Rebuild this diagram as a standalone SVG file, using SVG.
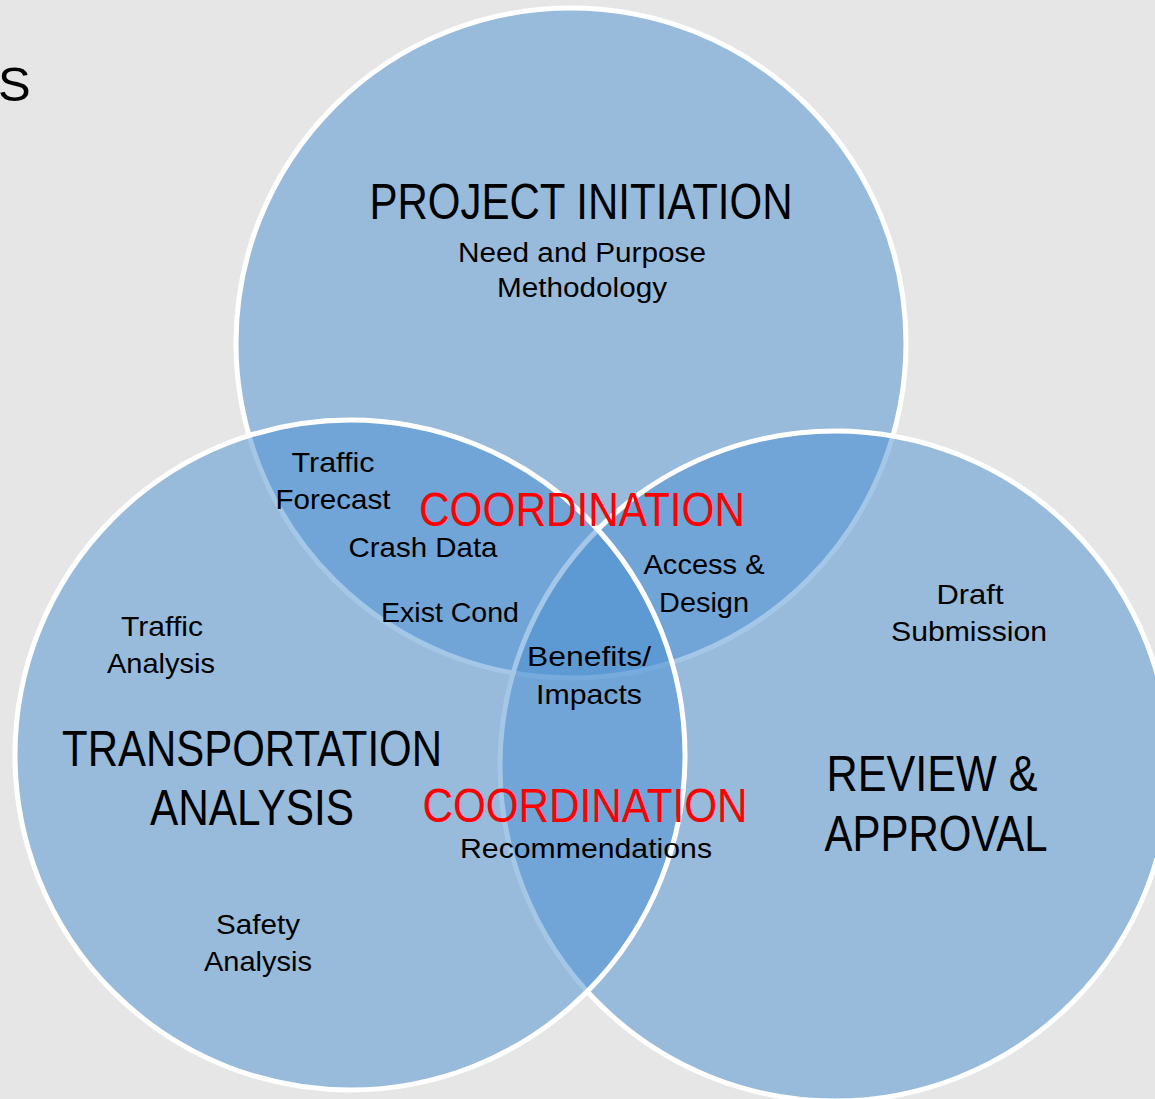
<svg xmlns="http://www.w3.org/2000/svg" width="1155" height="1099" viewBox="0 0 1155 1099">
  <style>
    .circle { fill: #4a8fd2; fill-opacity: 0.5; stroke: #ffffff; stroke-width: 5; }
    .t { font-family: "Liberation Sans", Arial, sans-serif; fill: #000000; text-anchor: middle; }
    .small { font-size: 28px; }
    .title { font-size: 50px; }
    .coord { font-family: "Liberation Sans", Arial, sans-serif; font-size: 49px; fill: #ff0000; text-anchor: middle; }
  </style>
  <rect x="0" y="0" width="1155" height="1099" fill="#e6e6e6"/>
  <text x="-2" y="101" font-family="Liberation Sans, Arial, sans-serif" font-size="49" fill="#000000">S</text>

  <g id="project-initiation">
    <circle class="circle" cx="571" cy="343" r="335"/>
  </g>
  <g id="review-approval">
    <circle class="circle" cx="835" cy="766" r="335"/>
  </g>
  <g id="transportation-analysis">
    <circle class="circle" cx="350" cy="755" r="335"/>
  </g>

  <g id="project-initiation-labels">
    <text class="t title" x="581" y="219" textLength="423" lengthAdjust="spacingAndGlyphs">PROJECT INITIATION</text>
    <text class="t" font-size="27" x="582" y="262" textLength="248" lengthAdjust="spacingAndGlyphs">Need and Purpose</text>
    <text class="t" font-size="27" x="582" y="297" textLength="170" lengthAdjust="spacingAndGlyphs">Methodology</text>
  </g>

  <g id="transportation-analysis-labels">
    <text class="t title" x="252" y="766" textLength="380" lengthAdjust="spacingAndGlyphs">TRANSPORTATION</text>
    <text class="t title" x="252" y="825" textLength="204" lengthAdjust="spacingAndGlyphs">ANALYSIS</text>
    <text class="t small" x="162" y="636" textLength="82" lengthAdjust="spacingAndGlyphs">Traffic</text>
    <text class="t small" x="161" y="673" textLength="108" lengthAdjust="spacingAndGlyphs">Analysis</text>
    <text class="t small" x="258" y="934" textLength="84" lengthAdjust="spacingAndGlyphs">Safety</text>
    <text class="t small" x="258" y="971" textLength="108" lengthAdjust="spacingAndGlyphs">Analysis</text>
  </g>

  <g id="review-approval-labels">
    <text class="t title" x="932" y="791" textLength="211" lengthAdjust="spacingAndGlyphs">REVIEW &amp;</text>
    <text class="t title" x="936" y="851" textLength="223" lengthAdjust="spacingAndGlyphs">APPROVAL</text>
    <text class="t small" x="970" y="604" textLength="67" lengthAdjust="spacingAndGlyphs">Draft</text>
    <text class="t small" x="969" y="641" textLength="156" lengthAdjust="spacingAndGlyphs">Submission</text>
  </g>

  <g id="overlap-labels">
    <text class="t small" x="333" y="472" textLength="83" lengthAdjust="spacingAndGlyphs">Traffic</text>
    <text class="t small" x="333" y="509" textLength="115" lengthAdjust="spacingAndGlyphs">Forecast</text>
    <text class="t small" x="423" y="557" textLength="149" lengthAdjust="spacingAndGlyphs">Crash Data</text>
    <text class="t small" x="450" y="622" textLength="138" lengthAdjust="spacingAndGlyphs">Exist Cond</text>
    <text class="t small" x="704" y="574" textLength="121" lengthAdjust="spacingAndGlyphs">Access &amp;</text>
    <text class="t small" x="704" y="612" textLength="90" lengthAdjust="spacingAndGlyphs">Design</text>
    <text class="t small" x="589" y="666" textLength="124" lengthAdjust="spacingAndGlyphs">Benefits/</text>
    <text class="t small" x="589" y="704" textLength="106" lengthAdjust="spacingAndGlyphs">Impacts</text>
    <text class="t small" x="586" y="858" textLength="252" lengthAdjust="spacingAndGlyphs">Recommendations</text>
    <text class="coord" x="582" y="526" textLength="326" lengthAdjust="spacingAndGlyphs">COORDINATION</text>
    <text class="coord" x="585" y="822" textLength="325" lengthAdjust="spacingAndGlyphs">COORDINATION</text>
  </g>
</svg>
